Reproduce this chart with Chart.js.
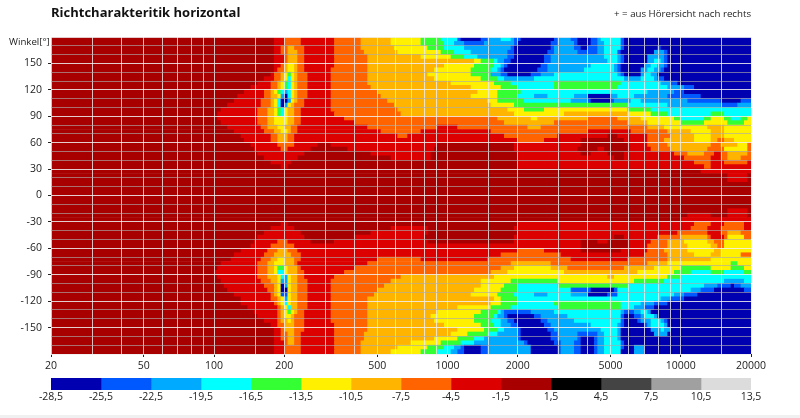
<!DOCTYPE html>
<html lang="de">
<head>
<meta charset="UTF-8">
<title>Richtcharakteritik horizontal</title>
<script src="https://cdn.jsdelivr.net/npm/chart.js"></script>
<style>
    body { margin: 0; background: #fff; font-family: 'Open Sans', sans-serif; color: #222; }
    #page { position: relative; width: 800px; height: 418px; overflow: hidden; }
    #mainWrap { position: absolute; left: 0; top: 0; width: 800px; height: 378px; }
    #scaleWrap { position: absolute; left: 0; top: 378px; width: 800px; height: 37px; }
    .label { position: absolute; white-space: nowrap; }
    #title { left: 51px; top: 3px; font: bold 13px 'Open Sans', sans-serif; color: #111; }
    #note { right: 49px; top: 7px; font-size: 9.7px; color: #222; }
    #yTitle { left: 9px; top: 35px; font-size: 9.7px; color: #222; }
    #strip { position: absolute; left: 0; top: 415px; width: 800px; height: 3px; background: #f0f0f0; }
</style>
</head>
<body>
<div id="page">
    <div id="mainWrap"><canvas id="polarMap"></canvas></div>
    <div id="scaleWrap"><canvas id="colorScale"></canvas></div>
    <div class="label" id="title">Richtcharakteritik horizontal</div>
    <div class="label" id="note">+ = aus Hörersicht nach rechts</div>
    <div class="label" id="yTitle">Winkel[°]</div>
    <div id="strip"></div>
</div>
<script>
// level bands, one letter each, low to high
const bandKeys = ['a', 'b', 'c', 'd', 'e', 'f', 'g', 'h', 'i', 'j', 'k', 'l', 'm', 'n'];
const bandColors = ['#0000b0', '#0058ff', '#00aaff', '#00ffff', '#33ff33', '#fff000', '#ffb400',
    '#ff6400', '#dc0000', '#a80000', '#000000', '#444444', '#a0a0a0', '#dcdcdc'];
const levelEdges = [-28.5, -25.5, -22.5, -19.5, -16.5, -13.5, -10.5, -7.5, -4.5, -1.5, 1.5, 4.5, 7.5, 10.5, 13.5];

const xGridHz = [20, 30, 40, 50, 60, 70, 80, 90, 100, 150, 200, 300, 400, 500, 600, 700, 800, 900, 1000,
    1500, 2000, 3000, 4000, 5000, 6000, 7000, 8000, 9000, 10000, 15000, 20000];
const xLabelHz = [20, 50, 100, 200, 500, 1000, 2000, 5000, 10000, 20000];

// frequency breakpoints used by the rows below
const freqBins = [
    20, 20.7, 21.4, 22.1, 22.8, 23.6, 24.4, 25.2, 26, 26.9, 27.8, 28.7, 29.7, 30.7, 31.7, 32.8, 33.9, 35, 36.2, 37.4,
    38.6, 39.9, 41.2, 42.6, 44, 45.5, 47, 48.6, 50.2, 51.9, 53.7, 55.4, 57.3, 59.2, 61.2, 63.2, 65.4, 67.5, 69.8, 72.1,
    74.6, 77, 79.6, 82.3, 85, 87.9, 90.8, 93.9, 97, 100.2, 103.6, 107.1, 110.6, 114.3, 118.2, 122.1, 126.2, 130.4, 134.8, 139.3,
    143.9, 148.8, 153.7, 158.9, 164.2, 169.7, 175.3, 181.2, 187.3, 193.5,
    200, 207, 214, 221, 228, 236, 244, 252, 260, 269, 278, 287, 297, 307, 317, 328, 339, 350, 362, 374,
    386, 399, 412, 426, 440, 455, 470, 486, 502, 519, 537, 554, 573, 592, 612, 632, 654, 675, 698, 721,
    746, 770, 796, 823, 850, 879, 908, 939, 970, 1002, 1036, 1071, 1106, 1143, 1182, 1221, 1262, 1304, 1348, 1393,
    1439, 1488, 1537, 1589, 1642, 1697, 1753, 1812, 1873, 1935,
    2000, 2066, 2136, 2208, 2282, 2358, 2436, 2518, 2602, 2690, 2778, 2872, 2968, 3068, 3170, 3276, 3386, 3498, 3616, 3736,
    3862, 3990, 4124, 4262, 4404, 4552, 4704, 4860, 5024, 5192, 5366, 5544, 5730, 5922, 6120, 6324, 6536, 6754, 6980, 7212,
    7456, 7704, 7962, 8228, 8504, 8788, 9082, 9386, 9700, 10024, 10358, 10706, 11064, 11434, 11816, 12210, 12620, 13040, 13478, 13928,
    14394, 14876, 15372, 15886, 16418, 16966, 17532, 18120, 18726, 19352, 20000
];

// angle of each row, top to bottom
const angles = [177.5, 172.5, 167.5, 162.5, 157.5, 152.5, 147.5, 142.5, 137.5, 132.5, 127.5, 122.5,
    117.5, 112.5, 107.5, 102.5, 97.5, 92.5, 87.5, 82.5, 77.5, 72.5, 67.5, 62.5,
    57.5, 52.5, 47.5, 42.5, 37.5, 32.5, 27.5, 22.5, 17.5, 12.5, 7.5, 2.5,
    -2.5, -7.5, -12.5, -17.5, -22.5, -27.5, -32.5, -37.5, -42.5, -47.5, -52.5, -57.5,
    -62.5, -67.5, -72.5, -77.5, -82.5, -87.5, -92.5, -97.5, -102.5, -107.5, -112.5, -117.5,
    -122.5, -127.5, -132.5, -137.5, -142.5, -147.5, -152.5, -157.5, -162.5, -167.5, -172.5, -177.5];

// each row: band letter + index in freqBins where that band ends
const upperRows = [
    'j67 i70 h75 i85 h93 g102 f111 e117 d122 b123 a129 b131 c135 d138 c139 b141 a151 b152 c156 b158 a162 b164 c165 d171 b172 a210',
    'j67 i70 h75 i85 h93 g102 f111 e118 d121 c124 b130 c139 b140 a150 b152 c157 b158 a162 b164 c166 d171 b172 a210',
    'j67 i69 h71 g73 h76 i85 h93 g103 f113 e118 d124 c138 b139 a150 b151 c157 b159 a161 b164 c166 d171 b172 a182 b183 a210',
    'j67 i69 h71 g74 h76 i85 h94 g104 f117 e121 d126 c137 b139 a149 b151 c158 b164 c166 d170 b171 a181 c184 b185 a210',
    'j67 i70 h71 g74 h76 i85 h95 g111 f120 e124 d128 c137 b139 a148 b150 c166 d170 c171 b172 a179 c184 b185 a210',
    'j67 i70 h71 g74 h76 i85 h95 g127 f129 e133 d134 c136 b138 a148 b150 c167 d170 c171 b172 a179 c181 d183 c184 b185 a210',
    'j67 i69 h70 g71 f73 g74 h76 i85 h95 g118 f127 e133 d135 c136 b137 a147 b149 c162 d169 c170 b171 a178 c180 d182 c184 b185 a210',
    'j67 i68 h70 g71 f73 g74 h76 i84 h95 g115 f126 e132 d134 c135 b136 a146 b149 c160 d169 c170 b171 a177 c179 d181 c183 b184 a210',
    'j66 i67 h69 g70 f71 e72 f73 g74 h77 i84 h95 g113 f126 e132 c135 b137 a144 b147 c151 d170 c171 b172 a177 c178 d180 c182 a210',
    'j64 i67 h69 g70 f71 d72 f73 g74 h77 i84 h95 g115 f129 e134 d136 c145 d172 c177 d181 c182 b184 a210',
    'j62 i66 h68 g69 f70 e71 d72 f73 g74 h77 i84 h95 g120 f133 e138 d151 e171 d183 c186 b188 a210',
    'j60 i66 h68 g69 f70 e71 d72 f73 g74 h77 i84 h96 g126 f135 e140 d151 e170 d185 c190 b193 a210',
    'j58 i64 h66 g67 f68 e69 d70 c71 d72 f73 g74 h77 i84 h98 g128 f134 e141 d179 c187 b190 a210',
    'j56 i64 h66 g68 f69 c70 a71 d72 f73 g74 h77 i84 h99 g126 f134 e140 d145 c149 d157 c161 a168 c170 d175 c185 b195 a210',
    'j55 i63 h66 g67 f68 d69 a71 c72 f73 g74 h76 i84 h101 g131 f134 e142 d156 c161 b162 a168 b169 c174 d177 c191 b201 a207 b210',
    'j53 i63 h66 g67 f68 d69 a70 c71 f72 g73 h76 i84 h103 g132 f139 e173 d185 c201 b206 c210',
    'j51 i62 h65 g67 f68 e69 d70 f71 g73 h75 i84 h104 g137 f142 e148 f173 e180 d210',
    'j50 i62 h65 g67 f68 e69 d70 f71 g73 h75 i85 h105 g139 f154 g173 f180 e185 d198 e202 d210',
    'j50 i62 h65 g67 f71 g73 h75 i88 h134 g144 f146 g161 h170 g177 f187 e189 d196 e198 f202 e204 d207 e209 f210',
    'j51 i62 h65 g67 f71 g73 h75 i91 h136 g151 h173 g179 f189 e196 f203 e208 f210',
    'j53 i63 h65 g68 f70 g72 h74 i95 h116 i122 h143 g147 h179 g184 f197 g202 f210',
    'j55 i64 h67 g69 f71 g72 h74 i99 h111 i132 h161 i174 h185 g192 f198 g202 f210',
    'j57 i66 h68 g71 h73 i104 h107 i136 h152 i167 j170 i179 h186 g193 f198 g202 f210',
    'j58 i66 h68 g71 h73 i140 h148 i159 j172 i179 h184 g193 f198 g200 h202 g205 f210',
    'j60 i68 h73 i80 j84 i116 j139 i159 j173 i179 h185 g198 h201 g206 f209 h210',
    'j61 i69 h71 i78 j89 i115 j139 i158 j164 i166 j173 i180 h186 g197 h202 f209 h210',
    'j62 i76 j96 i114 j140 i159 j162 i167 j172 i187 h191 g196 h199 i201 h203 g209 h210',
    'j64 i74 j102 i114 j140 i169 j172 i190 h198 i201 h203 g207 h210',
    'j66 i72 j140 i193 h198 i202 h209 i210',
    'j69 i71 j140 i196 h198 i210',
    'j195 i210',
    'j203 i209 j210',
    'j203 i209 j210',
    'j210',
    'j210',
    'j210'
];
const lowerRows = [
    'j210',
    'j210',
    'j210',
    'j203 i209 j210',
    'j191 i198 j203 i209 j210',
    'j189 i210',
    'j69 i71 j140 i193 h198 i202 h208 i210',
    'j66 i73 j102 i113 j139 i192 h197 i201 h208 i210',
    'j64 i75 j96 i113 j140 i188 h197 i201 h203 g207 h210',
    'j62 i76 j91 i112 j139 i169 j172 i182 h189 g197 h198 i202 h203 f208 h210',
    'j61 i68 h71 i78 j85 i113 j139 i159 j164 i167 j173 i180 h185 g190 f197 g199 h202 f210',
    'j60 i66 h73 i159 j173 i179 h185 g191 f198 g200 h202 f210',
    'j57 i65 h68 g71 h74 i140 h148 i159 j171 i179 h184 g191 f199 g201 f210',
    'j55 i64 h67 g72 h75 i135 h153 i178 h185 g193 f198 g201 f207 h210',
    'j54 i63 h66 g68 f70 g73 h75 i98 h111 i131 h156 i173 h185 g198 f210',
    'j51 i62 h65 g67 f70 g73 h74 i95 h138 g150 h179 g185 f204 e206 f210',
    'j50 i62 h65 g67 f68 e70 f71 g74 h75 i91 h135 g139 f150 g155 h172 g181 f189 e198 f204 e208 f210',
    'j49 i62 h65 g67 f68 d70 f71 g74 h76 i88 h132 g137 f154 g176 f187 e192 d198 e202 d208 e210',
    'j50 i62 h65 g68 f69 d70 c71 f72 g74 h76 i85 h105 g133 f167 g169 f185 e189 d210',
    'j51 i63 h66 g68 f69 c71 f72 g74 h77 i84 h102 g129 f138 e152 f175 e184 d202 c208 d210',
    'j52 i64 h67 g68 f69 a70 c71 f72 g74 h77 i84 h100 g129 f136 e140 d152 e173 d196 c200 b204 a205 b207 c210',
    'j53 i65 h67 g68 f69 a71 f72 g74 h77 i84 h98 g127 f135 e140 d156 b162 a169 b170 d192 c195 b199 a208 b210',
    'j55 i66 h67 g68 f69 b71 f72 g74 h77 i84 h97 g126 f134 e139 d145 c149 d156 c161 a167 b170 d187 c190 b194 a210',
    'j57 i66 h68 g69 f70 c71 f72 g74 h77 i84 h95 g133 f135 e140 d183 c186 b190 a210',
    'j57 i67 h68 g69 f70 d71 f72 g74 h77 i84 h95 g132 f135 e140 d151 e171 d177 c181 b185 a210',
    'j59 i68 h69 g70 f71 d72 g74 h77 i84 h95 g122 f132 e138 d152 e171 d175 c178 b181 a210',
    'j61 i68 h69 g70 f71 e72 f73 g74 h76 i84 h95 g116 f129 e134 d135 c136 b144 c151 d171 c172 b175 c177 d179 c180 a210',
    'j62 i68 h69 g70 f72 g73 h76 i84 h95 g114 f127 e133 d134 c136 b137 a145 b147 c155 d171 b172 a175 b177 c178 d181 c182 a210',
    'j64 i68 h69 g71 f72 g73 h76 i84 h95 g115 f127 e132 d135 c137 b139 a147 b149 c157 d171 b172 a176 b177 c180 d183 c184 b185 a210',
    'j66 i68 h70 g73 h76 i85 h95 g118 f129 e133 d135 c138 b140 a148 b150 c162 d170 c171 b172 a178 b179 c180 d184 c185 a210',
    'j67 i69 h70 g73 h76 i85 h95 g122 f130 e134 d136 c140 b141 a149 b151 c165 d170 c171 a180 c183 d184 c186 a210',
    'j67 i69 h71 g73 h75 i85 h94 g120 f125 e131 d134 c140 b141 a150 b152 c158 b164 c166 d170 c171 a181 c185 a210',
    'j67 i69 h71 g73 h75 i85 h94 g115 f122 e127 d130 c140 b141 a150 b152 c158 b159 a163 b164 c166 d170 c171 a210',
    'j67 i70 h71 g73 h75 i85 h93 g108 f117 e123 d127 c142 b143 a151 b153 c157 b159 a163 b164 c166 d171 b172 a210',
    'j67 i70 h75 i85 h93 g104 f113 e118 d121 c123 b124 a129 b131 c144 a152 b153 c157 b159 a163 b164 c166 d171 b172 a175 c178 a210',
    'j67 i70 h75 i85 h93 g102 f111 e116 d120 c122 b124 a129 b131 c144 a152 b153 c157 b159 a163 b164 c166 d171 a175 c178 a210'
];

const tickFont = { family: "'Open Sans', sans-serif", size: 10.5 };
const tickColor = '#222';

// turn the rows into floating bars
const cells = [];
upperRows.concat(lowerRows).forEach(function (row, r) {
    let start = 0;
    row.split(' ').forEach(function (run) {
        const end = parseInt(run.slice(1), 10);
        cells.push({ y: angles[r], x: [freqBins[start], freqBins[end]], band: bandKeys.indexOf(run[0]) });
        start = end;
    });
});

new Chart(document.getElementById('polarMap'), {
    type: 'bar',
    data: {
        datasets: [{
            data: cells,
            backgroundColor: ctx => bandColors[ctx.raw.band],
            grouped: false,
            barPercentage: 1,
            categoryPercentage: 1,
            borderWidth: 0
        }]
    },
    options: {
        indexAxis: 'y',
        responsive: true,
        maintainAspectRatio: false,
        animation: false,
        layout: { padding: { top: 37, right: 49, left: 0, bottom: 0 } },
        plugins: { legend: { display: false }, tooltip: { enabled: false } },
        scales: {
            x: {
                type: 'logarithmic',
                min: 20,
                max: 20000,
                afterBuildTicks: scale => { scale.ticks = xGridHz.map(v => ({ value: v })); },
                afterFit: scale => { scale.height = 24; },
                border: { display: false },
                grid: {
                    z: 1,
                    color: 'rgba(238,238,238,0.8)',
                    lineWidth: 1,
                    tickLength: 3,
                    tickColor: ctx => xLabelHz.includes(ctx.tick.value) ? '#222' : 'transparent'
                },
                ticks: {
                    autoSkip: false,
                    maxRotation: 0,
                    padding: 3,
                    color: tickColor,
                    font: tickFont,
                    callback: v => xLabelHz.includes(v) ? String(v) : ''
                }
            },
            y: {
                type: 'linear',
                min: -180,
                max: 180,
                offset: false,
                afterFit: scale => { scale.width = 51; },
                border: { display: false },
                grid: {
                    offset: false,
                    z: 1,
                    color: ctx => ctx.tick.value % 30 === 0 ? 'rgba(240,240,240,0.85)' : 'rgba(170,170,170,0.65)',
                    lineWidth: 1,
                    tickLength: 3,
                    tickColor: ctx => (ctx.tick.value % 30 === 0 && Math.abs(ctx.tick.value) < 180) ? '#222' : 'transparent'
                },
                ticks: {
                    stepSize: 10,
                    autoSkip: false,
                    padding: 6,
                    color: tickColor,
                    font: tickFont,
                    callback: v => (v % 30 === 0 && Math.abs(v) < 180) ? String(v) : ''
                }
            }
        }
    }
});

new Chart(document.getElementById('colorScale'), {
    type: 'bar',
    data: {
        labels: ['dB'],
        datasets: bandColors.map((c, i) => ({
            data: [[levelEdges[i], levelEdges[i + 1]]],
            backgroundColor: c,
            grouped: false,
            barPercentage: 1,
            categoryPercentage: 1,
            borderWidth: 0
        }))
    },
    options: {
        indexAxis: 'y',
        responsive: true,
        maintainAspectRatio: false,
        animation: false,
        layout: { padding: { top: 0, right: 49, left: 51, bottom: 0 } },
        plugins: { legend: { display: false }, tooltip: { enabled: false } },
        scales: {
            y: { display: false },
            x: {
                type: 'linear',
                min: -28.5,
                max: 13.5,
                afterBuildTicks: scale => { scale.ticks = levelEdges.map(v => ({ value: v })); },
                afterFit: scale => { scale.height = 25; },
                border: { display: false },
                grid: { display: false, drawTicks: false, tickLength: 0 },
                ticks: {
                    autoSkip: false,
                    maxRotation: 0,
                    padding: 1,
                    color: tickColor,
                    font: tickFont,
                    callback: v => v.toFixed(1).replace('.', ',')
                }
            }
        }
    }
});
</script>
</body>
</html>
